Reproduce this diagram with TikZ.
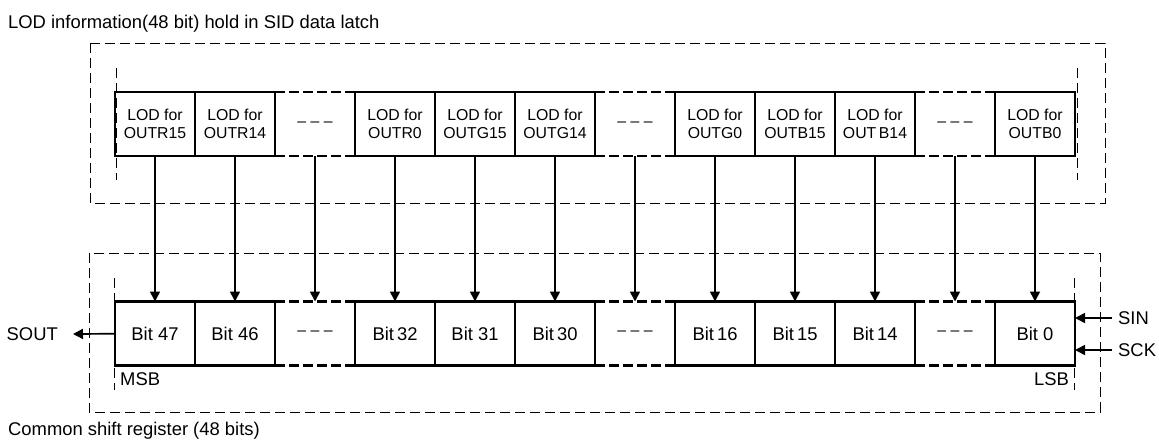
\documentclass[tikz,border=0pt]{standalone}
\usepackage{fontspec}
\setmainfont{Liberation Sans}
\usepackage{tikz}
\usetikzlibrary{arrows.meta, positioning}
\newcommand\lodfont{\fontsize{15.8}{18}\selectfont}
\newcommand\bitfont{\fontsize{18.4}{21}\selectfont}

\begin{document}
\begin{tikzpicture}[
        x=1pt, y=-1pt,
        % Styles
        lodbox/.style={rectangle, draw, line width=2.4pt, minimum width=80pt, minimum height=64pt,
                      inner sep=0pt, outer sep=0pt, align=center, font=\lodfont},
        bitbox/.style={rectangle, draw, line width=2.4pt, minimum width=80pt, minimum height=64pt,
                      inner sep=0pt, outer sep=0pt, align=center, font=\bitfont},
        gapslot/.style={rectangle, minimum width=80pt, minimum height=64pt,
                       inner sep=0pt, outer sep=0pt, font=\lodfont},
        gapedge/.style={line width=2.4pt, dash pattern=on 10pt off 4pt},
        frame/.style={line width=0.9pt, dash pattern=on 10pt off 5pt},
        arrow/.style={-{Triangle[length=10pt, width=10pt]}, line width=1.7pt},
        lbl/.style={inner sep=0pt, font=\bitfont},
    ]
    \useasboundingbox (0,0) rectangle (1159,442);

    % SID data latch (top row)
    \node[lodbox] (r15) at (155,124) {LOD for\\OUTR15};
    \node[lodbox, right=0pt of r15] (r14) {LOD for\\OUTR14};
    \node[gapslot, right=0pt of r14] (gtopa) {– – –};
    \node[lodbox, right=0pt of gtopa] (r0) {LOD for\\OUTR0};
    \node[lodbox, right=0pt of r0] (g15) {LOD for\\OUTG15};
    \node[lodbox, right=0pt of g15] (g14) {LOD for\\OUTG14};
    \node[gapslot, right=0pt of g14] (gtopb) {– – –};
    \node[lodbox, right=0pt of gtopb] (g0) {LOD for\\OUTG0};
    \node[lodbox, right=0pt of g0] (b15) {LOD for\\OUTB15};
    \node[lodbox, right=0pt of b15] (b14) {LOD for\\OUT\,B14};
    \node[gapslot, right=0pt of b14] (gtopc) {– – –};
    \node[lodbox, right=0pt of gtopc] (b0) {LOD for\\OUTB0};

    % Shift register (bottom row)
    \node[bitbox] (bit47) at (155,333.5) {Bit 47};
    \node[bitbox, right=0pt of bit47] (bit46) {Bit 46};
    \node[gapslot, right=0pt of bit46] (gbota) {– – –};
    \node[bitbox, right=0pt of gbota] (bit32) {Bit\,32};
    \node[bitbox, right=0pt of bit32] (bit31) {Bit 31};
    \node[bitbox, right=0pt of bit31] (bit30) {Bit\,30};
    \node[gapslot, right=0pt of bit30] (gbotb) {– – –};
    \node[bitbox, right=0pt of gbotb] (bit16) {Bit\,16};
    \node[bitbox, right=0pt of bit16] (bit15) {Bit\,15};
    \node[bitbox, right=0pt of bit15] (bit14) {Bit\,14};
    \node[gapslot, right=0pt of bit14] (gbotc) {– – –};
    \node[bitbox, right=0pt of gbotc] (bit0) {Bit 0};

    % Dashed edges of the gap slots
    \draw[gapedge] (gtopa.north west) -- (gtopa.north east) (gtopa.south west) -- (gtopa.south east);
    \draw[gapedge] (gtopb.north west) -- (gtopb.north east) (gtopb.south west) -- (gtopb.south east);
    \draw[gapedge] (gtopc.north west) -- (gtopc.north east) (gtopc.south west) -- (gtopc.south east);
    \draw[gapedge] (gbota.north west) -- (gbota.north east) (gbota.south west) -- (gbota.south east);
    \draw[gapedge] (gbotb.north west) -- (gbotb.north east) (gbotb.south west) -- (gbotb.south east);
    \draw[gapedge] (gbotc.north west) -- (gbotc.north east) (gbotc.south west) -- (gbotc.south east);

    % Latch to register
    \draw[arrow] (r15) -- (bit47);
    \draw[arrow] (r14) -- (bit46);
    \draw[arrow] (gtopa.south) -- (gbota.north);
    \draw[arrow] (r0) -- (bit32);
    \draw[arrow] (g15) -- (bit31);
    \draw[arrow] (g14) -- (bit30);
    \draw[arrow] (gtopb.south) -- (gbotb.north);
    \draw[arrow] (g0) -- (bit16);
    \draw[arrow] (b15) -- (bit15);
    \draw[arrow] (b14) -- (bit14);
    \draw[arrow] (gtopc.south) -- (gbotc.north);
    \draw[arrow] (b0) -- (bit0);

    % Dashed frames
    \draw[frame] (90,43) rectangle (1105,203);
    \draw[frame] (116,68) -- (116,180);
    \draw[frame] (1077,68) -- (1077,180);
    \draw[frame] (89,253) rectangle (1100,412);
    \draw[frame] (114,278) -- (114,390);
    \draw[frame] (1074,278) -- (1074,390);

    % Serial in / out
    \node[lbl, anchor=east] (sout) at (58,334) {SOUT};
    \draw[arrow] (bit47) -- ([xshift=15pt]sout.east);
    \node[lbl, anchor=west] (sin) at (1118,318) {SIN};
    \node[lbl, anchor=west] (sck) at (1118,350) {SCK};
    \draw[arrow] ([xshift=-6pt]sin.west) -- (sin.west -| bit0.east);
    \draw[arrow] ([xshift=-6pt]sck.west) -- (sck.west -| bit0.east);

    % Labels
    \node[lbl, anchor=west] (msb) at (120,379) {MSB};
    \node[lbl, anchor=east] (lsb) at (1069,379) {LSB};
    \node[lbl, anchor=base west] (latchtitle) at (8,28) {LOD information(48 bit) hold in SID data latch};
    \node[lbl, anchor=base west] (regtitle) at (8,435) {Common shift register (48 bits)};

\end{tikzpicture}
\end{document}
